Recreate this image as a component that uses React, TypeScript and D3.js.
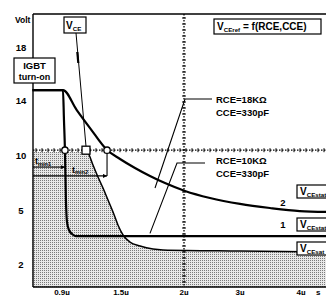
import React, { useEffect, useRef } from "react";
import * as d3 from "d3";

// time in µs, voltage in V
const xTicks = [0.9, 1.5, 2, 3, 4];
const xTickLabels = ["0.9µ", "1.5µ", "2µ", "3µ", "4µ"];
const yTicks = [18, 14, 10, 5, 2];

// curve 2 : RCE=18KΩ, CCE=330pF
const curve2T = [0.6, 0.91, 1.05, 1.185, 1.358, 1.49, 1.611, 1.73, 1.849, 2.018, 2.464, 3.0, 3.49, 3.98, 4.45];
const curve2V = [14.75, 14.75, 13.27, 11.96, 10.36, 9.64, 8.82, 8.09, 7.45, 6.73, 6.09, 5.55, 5.18, 4.94, 4.89];

// curve 1 : RCE=10KΩ, CCE=330pF
const curve1T = [0.6, 0.91, 0.92, 0.93, 0.94, 0.951, 0.971, 1.002, 1.042, 4.45];
const curve1V = [14.75, 14.75, 12.55, 10.36, 5.91, 4.33, 3.89, 3.67, 3.55, 3.55];

// VCE
const vceT = [0.6, 1.144, 1.164, 1.215, 1.266, 1.317, 1.368, 1.419, 1.469, 1.516, 1.571, 1.651, 1.754, 1.833, 3.0, 4.45];
const vceV = [10.22, 10.22, 10.15, 9.09, 8.0, 7.0, 5.91, 4.89, 4.17, 3.61, 3.22, 3.0, 2.83, 2.78, 2.72, 2.67];

const vceRef = 10.35;
const tmin1 = { t: 0.93, v: 8.9 };
const tmin2 = { t: 1.358, v: 8.1 };
const squareT = 1.144;

const FONT = "'Liberation Sans', Arial, sans-serif";

function subLabel(g: any, x: number, y: number, main: string, sub: string, rest = "", size = 10, anchor = "start") {
  const t = g
    .append("text")
    .attr("x", x)
    .attr("y", y)
    .attr("font-family", FONT)
    .attr("font-size", size)
    .attr("font-weight", "bold")
    .attr("text-anchor", anchor);
  t.append("tspan").text(main);
  t.append("tspan").attr("font-size", size * 0.62).attr("dy", 1.5).text(sub);
  if (rest) t.append("tspan").attr("dy", -1.5).text(rest);
}

function createChart(el: SVGSVGElement) {
  const svg = d3.select(el);
  svg.selectAll("*").remove();
  const left = 33, top = 14, right = 326, bottom = 287;

  const x = d3.scaleLinear().domain(xTicks).range([62, 121, 184, 240, 301]);
  const y = d3.scaleLinear().domain([2, 5, 10, 14, 18]).range([264, 210, 155, 100, 47]);

  const defs = svg.append("defs");
  const pat = defs
    .append("pattern")
    .attr("id", "stipple")
    .attr("width", 2)
    .attr("height", 2)
    .attr("patternUnits", "userSpaceOnUse");
  pat.append("rect").attr("width", 2).attr("height", 2).attr("fill", "#e8e8e8");
  pat.append("rect").attr("width", 1).attr("height", 1).attr("fill", "#7a7a7a");

  defs
    .append("marker")
    .attr("id", "arr")
    .attr("viewBox", "0 0 6 6")
    .attr("refX", 6)
    .attr("refY", 3)
    .attr("markerWidth", 4)
    .attr("markerHeight", 4)
    .attr("orient", "auto")
    .append("path")
    .attr("d", "M0,0L6,3L0,6Z")
    .attr("fill", "#000");

  const vceData = vceT.map((t, i) => ({ t, v: vceV[i] }));
  const c1 = curve1T.map((t, i) => ({ t, v: curve1V[i] }));
  const c2 = curve2T.map((t, i) => ({ t, v: curve2V[i] }));

  // shaded VCE area
  svg
    .append("path")
    .datum(vceData)
    .attr("fill", "url(#stipple)")
    .attr(
      "d",
      d3
        .area<any>()
        .x((d) => x(d.t))
        .y0(bottom)
        .y1((d) => y(d.v))
        .curve(d3.curveMonotoneX)
    );

  // frame
  const frame = svg.append("g").attr("stroke", "#000").attr("stroke-width", 1.4);
  frame.append("line").attr("x1", left).attr("x2", left).attr("y1", top).attr("y2", bottom);
  frame.append("line").attr("x1", left).attr("x2", right).attr("y1", top).attr("y2", top);
  frame.append("line").attr("x1", left).attr("x2", right).attr("y1", bottom).attr("y2", bottom);

  // dotted reference lines with crosses
  const yr = y(vceRef);
  svg
    .append("line")
    .attr("x1", left)
    .attr("x2", right)
    .attr("y1", yr)
    .attr("y2", yr)
    .attr("stroke", "#000")
    .attr("stroke-width", 1.3)
    .attr("stroke-dasharray", "1.5,1.5");
  svg
    .append("g")
    .selectAll("line")
    .data(d3.range(left + 3, right, 6))
    .enter()
    .append("line")
    .attr("x1", (d) => d)
    .attr("x2", (d) => d)
    .attr("y1", yr - 2)
    .attr("y2", yr + 2)
    .attr("stroke", "#000")
    .attr("stroke-width", 1);

  const xv = x(2);
  svg
    .append("line")
    .attr("x1", xv)
    .attr("x2", xv)
    .attr("y1", top)
    .attr("y2", bottom)
    .attr("stroke", "#000")
    .attr("stroke-width", 1.3)
    .attr("stroke-dasharray", "1.5,1.5");
  svg
    .append("g")
    .selectAll("line")
    .data(d3.range(top + 4, bottom, 6))
    .enter()
    .append("line")
    .attr("x1", xv - 2)
    .attr("x2", xv + 2)
    .attr("y1", (d) => d)
    .attr("y2", (d) => d)
    .attr("stroke", "#000")
    .attr("stroke-width", 1);

  const line = d3
    .line<any>()
    .x((d) => x(d.t))
    .y((d) => y(d.v))
    .curve(d3.curveMonotoneX);

  svg
    .append("path")
    .datum(vceData.filter((d) => d.t >= squareT))
    .attr("fill", "none")
    .attr("stroke", "#000")
    .attr("stroke-width", 1.5)
    .attr("d", line);

  svg.append("path").datum(c1).attr("fill", "none").attr("stroke", "#000").attr("stroke-width", 2.2).attr("d", line);
  svg.append("path").datum(c2).attr("fill", "none").attr("stroke", "#000").attr("stroke-width", 2.2).attr("d", line);

  // tmin arrows
  const ar = svg.append("g").attr("stroke", "#000").attr("stroke-width", 1.1);
  ar.append("line")
    .attr("x1", left)
    .attr("x2", x(tmin1.t))
    .attr("y1", y(tmin1.v))
    .attr("y2", y(tmin1.v))
    .attr("marker-end", "url(#arr)");
  ar.append("line")
    .attr("x1", left)
    .attr("x2", x(tmin2.t))
    .attr("y1", y(tmin2.v))
    .attr("y2", y(tmin2.v))
    .attr("marker-end", "url(#arr)");
  ar.append("line")
    .attr("x1", x(tmin2.t))
    .attr("x2", x(tmin2.t))
    .attr("y1", yr)
    .attr("y2", y(tmin2.v));
  subLabel(svg, 35, y(tmin1.v) - 3, "t", "min1", "", 9);
  subLabel(svg, 72, y(tmin2.v) - 3, "t", "min2", "", 9);

  // markers on the reference line
  [tmin1.t, tmin2.t].forEach((t) =>
    svg
      .append("circle")
      .attr("cx", x(t))
      .attr("cy", yr)
      .attr("r", 3.2)
      .attr("fill", "#fff")
      .attr("stroke", "#000")
      .attr("stroke-width", 1.3)
  );
  svg
    .append("rect")
    .attr("x", x(squareT) - 4)
    .attr("y", yr - 4)
    .attr("width", 8)
    .attr("height", 8)
    .attr("fill", "#fff")
    .attr("stroke", "#000")
    .attr("stroke-width", 1.3);

  // annotation boxes
  const box = (bx: number, by: number, bw: number, bh: number) =>
    svg
      .append("rect")
      .attr("x", bx)
      .attr("y", by)
      .attr("width", bw)
      .attr("height", bh)
      .attr("fill", "#fff")
      .attr("stroke", "#000")
      .attr("stroke-width", 1.2);

  // VCE pointer
  svg.append("line").attr("x1", 76).attr("y1", 33).attr("x2", x(squareT)).attr("y2", yr - 4).attr("stroke", "#000").attr("stroke-width", 1);
  svg.append("line").attr("x1", 77.3).attr("y1", 52).attr("x2", 78.3).attr("y2", 63).attr("stroke", "#000").attr("stroke-width", 2.2);
  box(64, 17, 22, 16);
  subLabel(svg, 66, 29, "V", "CE", "", 10);

  box(14, 58, 41, 25);
  box(214, 19, 107, 15);
  subLabel(svg, 217, 30, "V", "CEref", " = f(RCE,CCE)", 10);

  // RCE leaders
  const ld = svg.append("g").attr("stroke", "#000").attr("stroke-width", 1.1).attr("fill", "none");
  ld.append("polyline").attr("points", `212,99 185,99 ${x(1.77)},${y(7.0)}`);
  ld.append("polyline").attr("points", `205,163 177,163 ${x(1.73)},${y(3.7)}`);

  // right-side labels
  box(297, 185, 40, 13);
  subLabel(svg, 300, 195, "V", "CEstat", "", 10);
  box(297, 218, 40, 13);
  subLabel(svg, 300, 228, "V", "CEstat", "", 10);
  box(297, 242, 40, 13);
  subLabel(svg, 300, 252, "V", "CEsat", "", 10);

  // texts
  const txt = svg.append("g").attr("font-family", FONT).attr("font-size", 9.5).attr("font-weight", "bold");
  txt.append("text").attr("x", 15).attr("y", 23).attr("font-size", 8.5).text("Volt");
  txt
    .selectAll(".yt")
    .data(yTicks)
    .enter()
    .append("text")
    .attr("x", 21)
    .attr("y", (d) => y(d) + 3.5)
    .attr("text-anchor", "middle")
    .text((d) => d);
  txt
    .selectAll(".xt")
    .data(xTicks)
    .enter()
    .append("text")
    .attr("x", (d) => x(d))
    .attr("y", 294.5)
    .attr("font-size", 8)
    .attr("text-anchor", "middle")
    .text((d, i) => xTickLabels[i]);
  txt.append("text").attr("x", 316).attr("y", 294.5).attr("font-size", 8).text("s");

  txt.append("text").attr("x", 34.5).attr("y", 69).attr("text-anchor", "middle").text("IGBT");
  txt.append("text").attr("x", 34.5).attr("y", 80).attr("text-anchor", "middle").attr("font-size", 9).text("turn-on");

  txt.append("text").attr("x", 216).attr("y", 103).text("RCE=18KΩ");
  txt.append("text").attr("x", 216).attr("y", 116).text("CCE=330pF");
  txt.append("text").attr("x", 216).attr("y", 164).text("RCE=10KΩ");
  txt.append("text").attr("x", 216).attr("y", 177).text("CCE=330pF");

  txt.append("text").attr("x", 283).attr("y", 206).attr("text-anchor", "middle").text("2");
  txt.append("text").attr("x", 283).attr("y", 228).attr("text-anchor", "middle").text("1");
}

export default function App() {
  const ref = useRef<SVGSVGElement>(null);
  useEffect(() => {
    if (ref.current) createChart(ref.current);
  }, []);
  return (
    <div style={{ position: "absolute", left: 0, top: 0, background: "#fff" }}>
      <svg ref={ref} width={326} height={295} style={{ display: "block" }}></svg>
    </div>
  );
}
